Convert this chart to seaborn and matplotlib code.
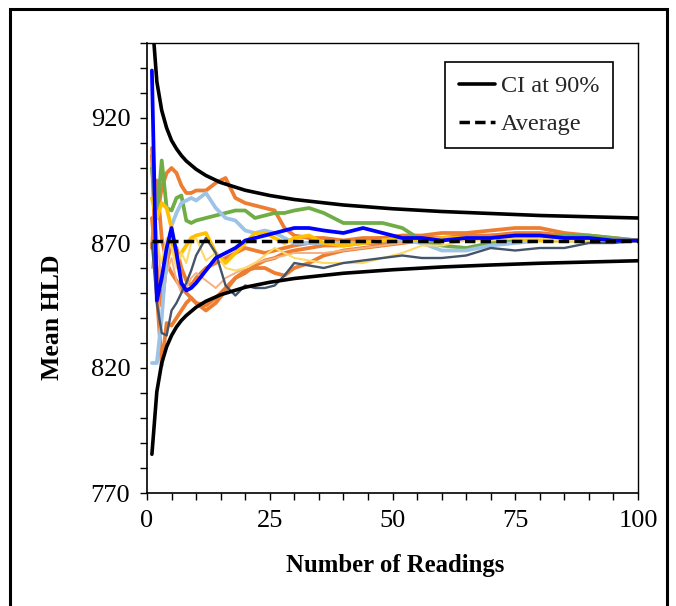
import matplotlib
matplotlib.use("Agg")
import matplotlib.pyplot as plt
import seaborn as sns
import pandas as pd
from matplotlib.lines import Line2D
from matplotlib.patches import Rectangle
from matplotlib.ticker import MultipleLocator

# ---------------- data ----------------
readings = [1, 2, 3, 4, 5, 6, 7, 8, 9, 10, 12, 14, 16, 18, 20, 22, 24, 26, 28, 30,
            33, 36, 40, 44, 48, 52, 56, 60, 65, 70, 75, 80, 85, 90, 95, 100]

blue = [939, 847, 856, 868, 876, 866, 854, 851, 852, 854, 859, 864, 866, 868, 871, 872, 873, 874,
        875, 876, 876, 875, 874, 876, 874, 872, 872, 871, 872, 872, 873, 873, 872, 872, 871, 871]
green = [900, 880, 903, 884, 883, 888, 889, 879, 878, 879, 880, 881, 882, 883, 883, 880, 881, 882,
         882, 883, 884, 882, 878, 878, 878, 876, 871, 869, 868, 870, 871, 872, 873, 873, 872, 871]
light_blue = [822, 822, 840, 866, 877, 882, 886, 887, 888, 887, 890, 884, 880, 879, 875, 874, 875, 874,
              872, 870, 870, 870, 870, 870, 871, 871, 870, 867, 867, 869, 870, 871, 871, 871, 871, 871]
gold = [888, 880, 886, 884, 876, 862, 866, 869, 872, 873, 874, 866, 862, 866, 870, 874, 874, 872,
        870, 872, 873, 870, 869, 870, 871, 872, 871, 872, 872, 872, 872, 871, 871, 871, 871, 871]
slate = [870, 846, 834, 833, 843, 846, 850, 854, 859, 865, 872, 866, 853, 849, 853, 852, 852, 853,
         857, 862, 861, 860, 862, 863, 864, 865, 864, 864, 865, 868, 867, 868, 868, 870, 870, 871]
light_yellow = [935, 870, 862, 872, 868, 860, 866, 862, 870, 872, 863, 866, 860, 859, 860, 862, 865, 868,
                866, 864, 863, 862, 862, 862, 864, 866, 869, 869, 871, 871, 872, 872, 871, 871, 871, 871]
light_orange = [860, 875, 852, 858, 864, 855, 850, 852, 856, 858, 855, 852, 856, 858, 860, 862, 863, 864,
                865, 866, 866, 866, 867, 868, 869, 870, 871, 871, 872, 872, 872, 872, 871, 871, 871, 871]
orange_a = [908, 880, 892, 898, 900, 898, 893, 890, 890, 891, 891, 894, 896, 888, 886, 885, 884, 883,
            876, 873, 872, 872, 871, 872, 872, 871, 872, 872, 873, 873, 874, 874, 873, 872, 871, 871]
orange_b = [905, 850, 821, 838, 837, 840, 843, 846, 848, 846, 845, 848, 852, 856, 858, 861, 863, 864,
            866, 867, 868, 869, 869, 870, 870, 871, 871, 872, 872, 873, 873, 873, 872, 872, 871, 871]
orange_c = [868, 895, 872, 862, 858, 855, 852, 850, 848, 846, 843, 846, 851, 856, 859, 860, 860, 858,
            857, 860, 862, 865, 867, 868, 869, 870, 871, 871, 872, 872, 873, 873, 872, 872, 871, 871]
orange_d = [880, 860, 845, 862, 870, 868, 860, 855, 853, 856, 860, 862, 864, 866, 868, 867, 866, 867,
            868, 869, 870, 870, 870, 871, 872, 873, 873, 874, 874, 875, 876, 876, 874, 873, 872, 871]

ci_n = [1, 2, 3, 4, 5, 6, 7, 8, 10, 12, 15, 20, 25, 30, 40, 50, 60, 70, 80, 90, 100]
ci_upper = [961, 934.6, 923, 916, 911, 907.7, 905, 902.8, 899.5, 897, 894.2, 891.1, 889, 887.4,
            885.2, 883.7, 882.6, 881.8, 881, 880.5, 880]
ci_lower = [785.5, 810.5, 822, 828.5, 833, 836.4, 839, 841, 844.3, 846.7, 849.3, 852.3, 854.3,
            855.8, 857.9, 859.3, 860.4, 861.2, 861.9, 862.4, 862.9]

avg_n = [1, 100]
avg_value = [871, 871]

x_ticks = [0, 25, 50, 75, 100]
y_ticks = [770, 820, 870, 920]

# ---------------- style ----------------
sns.set_theme(style="white")
plt.rcParams["font.family"] = ["Liberation Serif", "DejaVu Serif"]

fig = plt.figure(figsize=(6.76, 6.06), dpi=100)
ax = fig.add_axes([147 / 676, 1 - 493 / 606, (638 - 147) / 676, (493 - 43) / 606])

THICK = 2.7
series = [
    (orange_d, "#ED7D31", THICK),
    (orange_c, "#ED7D31", THICK),
    (orange_b, "#ED7D31", THICK),
    (light_orange, "#F4B183", 1.4),
    (orange_a, "#ED7D31", THICK),
    (green, "#70AD47", THICK),
    (light_blue, "#9DC3E6", THICK),
    (gold, "#FFC000", THICK),
    (light_yellow, "#FFD966", 1.5),
    (slate, "#44546A", 1.7),
    (blue, "#0000FF", THICK),
]
for vals, col, lw in series:
    df = pd.DataFrame({"n": readings, "v": vals})
    sns.lineplot(data=df, x="n", y="v", color=col, linewidth=lw, ax=ax,
                 estimator=None, sort=False)

dfu = pd.DataFrame({"n": ci_n, "v": ci_upper})
dfl = pd.DataFrame({"n": ci_n, "v": ci_lower})
sns.lineplot(data=dfu, x="n", y="v", color="black", linewidth=2.6, ax=ax, estimator=None)
sns.lineplot(data=dfl, x="n", y="v", color="black", linewidth=2.6, ax=ax, estimator=None)
dfa = pd.DataFrame({"n": avg_n, "v": avg_value})
sns.lineplot(data=dfa, x="n", y="v", color="black", linewidth=2.5, ax=ax,
             estimator=None, dashes=False, linestyle=(0, (3.0, 1.5)))

ax.set_xlim(0, 100)
ax.set_ylim(770, 950)
ax.set_xticks(x_ticks)
ax.set_yticks(y_ticks)
ax.xaxis.set_minor_locator(MultipleLocator(5))
ax.yaxis.set_minor_locator(MultipleLocator(10))
ax.tick_params(axis="both", which="both", direction="out", length=5, width=1,
               color="black", labelsize=19, labelcolor="black")
ax.tick_params(axis="both", which="both", bottom=True, left=True, top=False, right=False)
ax.tick_params(axis="x", pad=7)
ax.tick_params(axis="y", pad=7)

for side, sp in ax.spines.items():
    sp.set_color("black")
    sp.set_linewidth(1.2 if side in ("left", "bottom") else 1.0)

ax.set_xlabel("Number of Readings", fontsize=17.8, fontweight="bold", color="black")
ax.set_ylabel("Mean HLD", fontsize=18.5, fontweight="bold", color="black")
ax.xaxis.set_label_coords(0.505, -0.162)
ax.yaxis.set_label_coords(-0.193, 0.39)
ax.xaxis.label.set_va("center")
ax.yaxis.label.set_va("center")

handles = [Line2D([], [], color="black", linewidth=2.6),
           Line2D([], [], color="black", linewidth=2.5, linestyle=(0, (3.0, 1.5)))]
leg = ax.legend(handles, ["CI at 90%", "Average"], loc="upper right",
                bbox_to_anchor=(0.949, 0.958), borderaxespad=0, fontsize=17.5,
                frameon=True, fancybox=False, framealpha=1, edgecolor="black",
                handlelength=1.5, handletextpad=0.25, labelspacing=0.65,
                borderpad=0.55)
leg.get_frame().set_linewidth(1.2)

# outer border of the picture
fig.patches.append(Rectangle((10 / 676, -0.05), (667 - 10) / 676, 1 - 9 / 606 + 0.05,
                             transform=fig.transFigure, fill=False, edgecolor="black",
                             linewidth=2.2, clip_on=False))

fig.savefig("out.png", dpi=100, facecolor="white")
